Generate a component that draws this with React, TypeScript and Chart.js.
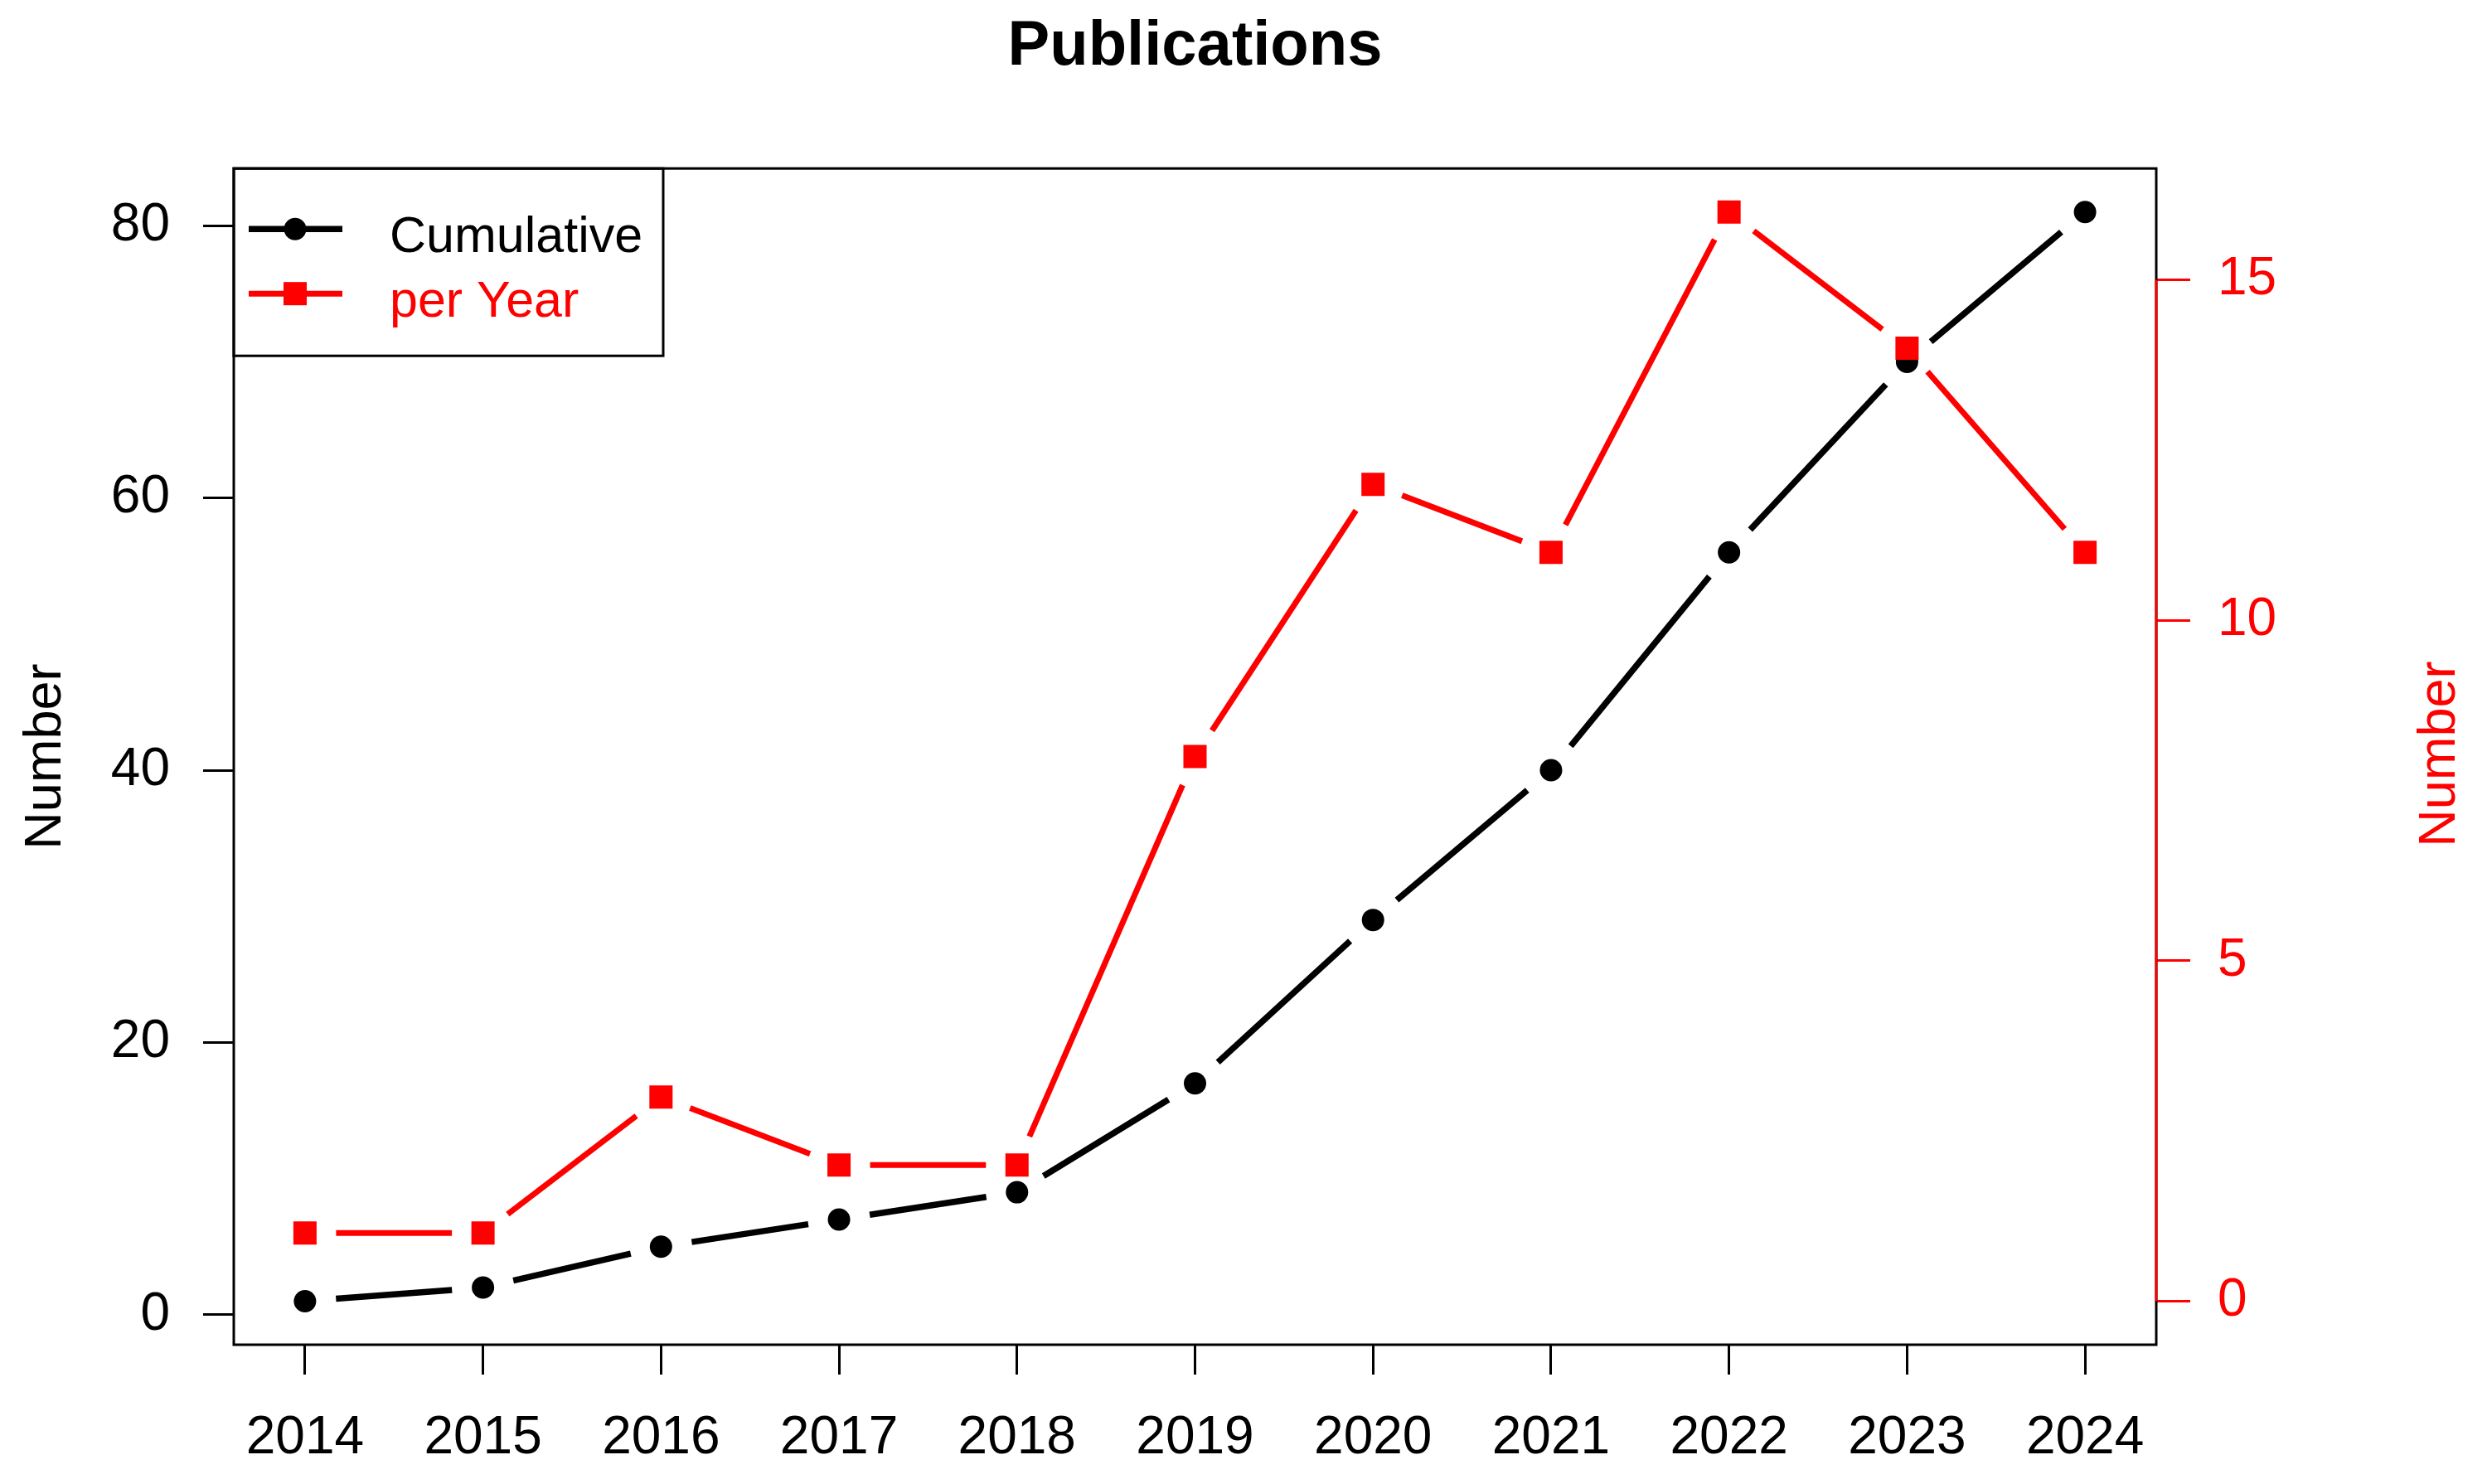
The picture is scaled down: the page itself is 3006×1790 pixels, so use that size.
import React, { useEffect, useRef } from "react";
import { Chart, registerables } from "chart.js";

Chart.register(...registerables);

// ---------- data ----------
const years = [2014, 2015, 2016, 2017, 2018, 2019, 2020, 2021, 2022, 2023, 2024];
const yearLabels = ["2014", "2015", "2016", "2017", "2018", "2019", "2020", "2021", "2022", "2023", "2024"];
const cumulative = [1, 2, 5, 7, 9, 17, 29, 40, 56, 70, 81];
const perYear = [1, 1, 3, 2, 2, 8, 12, 11, 16, 14, 11];
const leftTicks = [0, 20, 40, 60, 80];
const rightTicks = [0, 5, 10, 15];
const seriesNames = ["Cumulative", "per Year"];
const titleText = "Publications";
const axisTitle = "Number";

const FONT = "'Liberation Sans', Arial, Helvetica, sans-serif";
const GAP = 37.5;

const rStylePlugin = {
  id: "rStyle",
  beforeDatasetDraw(chart: any, args: any) {
    const ds = chart.data.datasets[args.index];
    const pts = args.meta.data;
    const ctx = chart.ctx;
    ctx.save();
    ctx.strokeStyle = ds.borderColor;
    ctx.lineWidth = ds.borderWidth;
    ctx.lineCap = "butt";
    for (let i = 0; i < pts.length - 1; i++) {
      const a = pts[i];
      const b = pts[i + 1];
      const dx = b.x - a.x;
      const dy = b.y - a.y;
      const d = Math.hypot(dx, dy);
      if (d <= 2 * GAP) continue;
      const ux = dx / d;
      const uy = dy / d;
      ctx.beginPath();
      ctx.moveTo(a.x + ux * GAP, a.y + uy * GAP);
      ctx.lineTo(b.x - ux * GAP, b.y - uy * GAP);
      ctx.stroke();
    }
    ctx.restore();
  },
  afterDraw(chart: any) {
    const ctx = chart.ctx;
    const ca = chart.chartArea;
    ctx.save();
    // plot box
    ctx.strokeStyle = "#000000";
    ctx.lineWidth = 3;
    ctx.strokeRect(ca.left, ca.top, ca.right - ca.left, ca.bottom - ca.top);

    // red right axis line between first and last tick
    const y1 = chart.scales.y1;
    ctx.strokeStyle = "#FF0000";
    ctx.lineWidth = 3;
    ctx.beginPath();
    ctx.moveTo(y1.left, y1.getPixelForValue(rightTicks[0]));
    ctx.lineTo(y1.left, y1.getPixelForValue(rightTicks[rightTicks.length - 1]));
    ctx.stroke();

    // right axis title
    ctx.save();
    ctx.translate(2944, (ca.top + ca.bottom) / 2 - 3);
    ctx.rotate(-Math.PI / 2);
    ctx.fillStyle = "#FF0000";
    ctx.font = `63px ${FONT}`;
    ctx.textAlign = "center";
    ctx.textBaseline = "middle";
    ctx.fillText(axisTitle, 0, 0);
    ctx.restore();

    // legend
    const lx = ca.left;
    const ly = ca.top;
    ctx.strokeStyle = "#000000";
    ctx.lineWidth = 3;
    ctx.strokeRect(lx, ly, 518, 226);
    const rows = [73, 151];
    chart.data.datasets.forEach((ds: any, i: number) => {
      const ry = ly + rows[i];
      ctx.strokeStyle = ds.borderColor;
      ctx.lineWidth = ds.borderWidth;
      ctx.beginPath();
      ctx.moveTo(lx + 18, ry);
      ctx.lineTo(lx + 131, ry);
      ctx.stroke();
      ctx.fillStyle = ds.pointBackgroundColor;
      const cx = lx + 74;
      if (ds.pointStyle === "rect") {
        ctx.fillRect(cx - 14, ry - 14, 28, 28);
      } else {
        ctx.beginPath();
        ctx.arc(cx, ry, 13.5, 0, Math.PI * 2);
        ctx.fill();
      }
      ctx.fillStyle = ds.borderColor;
      ctx.font = `61px ${FONT}`;
      ctx.textAlign = "left";
      ctx.textBaseline = "alphabetic";
      ctx.fillText(ds.label, lx + 188, ry + 28);
    });
    ctx.restore();
  },
};

export default function App() {
  const ref = useRef<HTMLCanvasElement | null>(null);

  useEffect(() => {
    if (!ref.current) return;
    const chart = new Chart(ref.current, {
      type: "line",
      data: {
        datasets: [
          {
            label: seriesNames[0],
            data: years.map((x, i) => ({ x, y: cumulative[i] })),
            yAxisID: "y",
            showLine: false,
            borderColor: "#000000",
            borderWidth: 7.5,
            pointBackgroundColor: "#000000",
            pointBorderWidth: 0,
            pointRadius: 13.5,
            pointStyle: "circle",
            order: 2,
          },
          {
            label: seriesNames[1],
            data: years.map((x, i) => ({ x, y: perYear[i] })),
            yAxisID: "y1",
            showLine: false,
            borderColor: "#FF0000",
            borderWidth: 7,
            pointBackgroundColor: "#FF0000",
            pointBorderWidth: 0,
            pointRadius: 19.8,
            pointStyle: "rect",
            order: 1,
          },
        ],
      },
      options: {
        responsive: false,
        devicePixelRatio: 1,
        animation: false,
        events: [],
        layout: { padding: 0 },
        plugins: {
          legend: { display: false },
          tooltip: { enabled: false },
          title: {
            display: true,
            text: titleText,
            fullSize: false,
            color: "#000000",
            font: { family: FONT, size: 76, weight: "bold" },
            padding: { top: 11, bottom: 101 },
          },
        },
        scales: {
          x: {
            type: "linear",
            position: "bottom",
            min: 2013.6,
            max: 2024.4,
            afterBuildTicks: (s: any) => {
              s.ticks = years.map((v) => ({ value: v }));
            },
            afterFit: (s: any) => {
              s.height = 168;
            },
            border: { display: false },
            grid: { display: true, drawOnChartArea: false, drawTicks: true, tickLength: 36, tickWidth: 3, tickColor: "#000000" },
            ticks: {
              autoSkip: false,
              maxRotation: 0,
              minRotation: 0,
              padding: 39,
              color: "#000000",
              font: { family: FONT, size: 64 },
              callback: (_v: any, i: number) => yearLabels[i],
            },
          },
          y: {
            type: "linear",
            position: "left",
            min: -2.2,
            max: 84.2,
            afterBuildTicks: (s: any) => {
              s.ticks = leftTicks.map((v) => ({ value: v }));
            },
            afterFit: (s: any) => {
              s.width = 282;
            },
            border: { display: false },
            grid: { display: true, drawOnChartArea: false, drawTicks: true, tickLength: 37, tickWidth: 3, tickColor: "#000000" },
            ticks: {
              padding: 40,
              color: "#000000",
              font: { family: FONT, size: 64 },
              callback: (v: any) => String(v),
            },
            title: {
              display: true,
              text: axisTitle,
              color: "#000000",
              font: { family: FONT, size: 63 },
              padding: { top: 18, bottom: 0 },
            },
          },
          y1: {
            type: "linear",
            position: "right",
            min: -0.64,
            max: 16.64,
            afterBuildTicks: (s: any) => {
              s.ticks = rightTicks.map((v) => ({ value: v }));
            },
            afterFit: (s: any) => {
              s.width = 405;
            },
            border: { display: false },
            grid: { display: true, drawOnChartArea: false, drawTicks: true, tickLength: 41, tickWidth: 3, tickColor: "#FF0000" },
            ticks: {
              padding: 33,
              color: "#FF0000",
              font: { family: FONT, size: 64 },
              callback: (v: any) => String(v),
            },
          },
        },
      },
      plugins: [rStylePlugin],
    } as any);
    return () => chart.destroy();
  }, []);

  return (
    <div style={{ position: "absolute", left: 0, top: 0, width: 3006, height: 1790, background: "#ffffff" }}>
      <canvas ref={ref} width={3006} height={1790} style={{ width: 3006, height: 1790, display: "block" }} />
    </div>
  );
}
